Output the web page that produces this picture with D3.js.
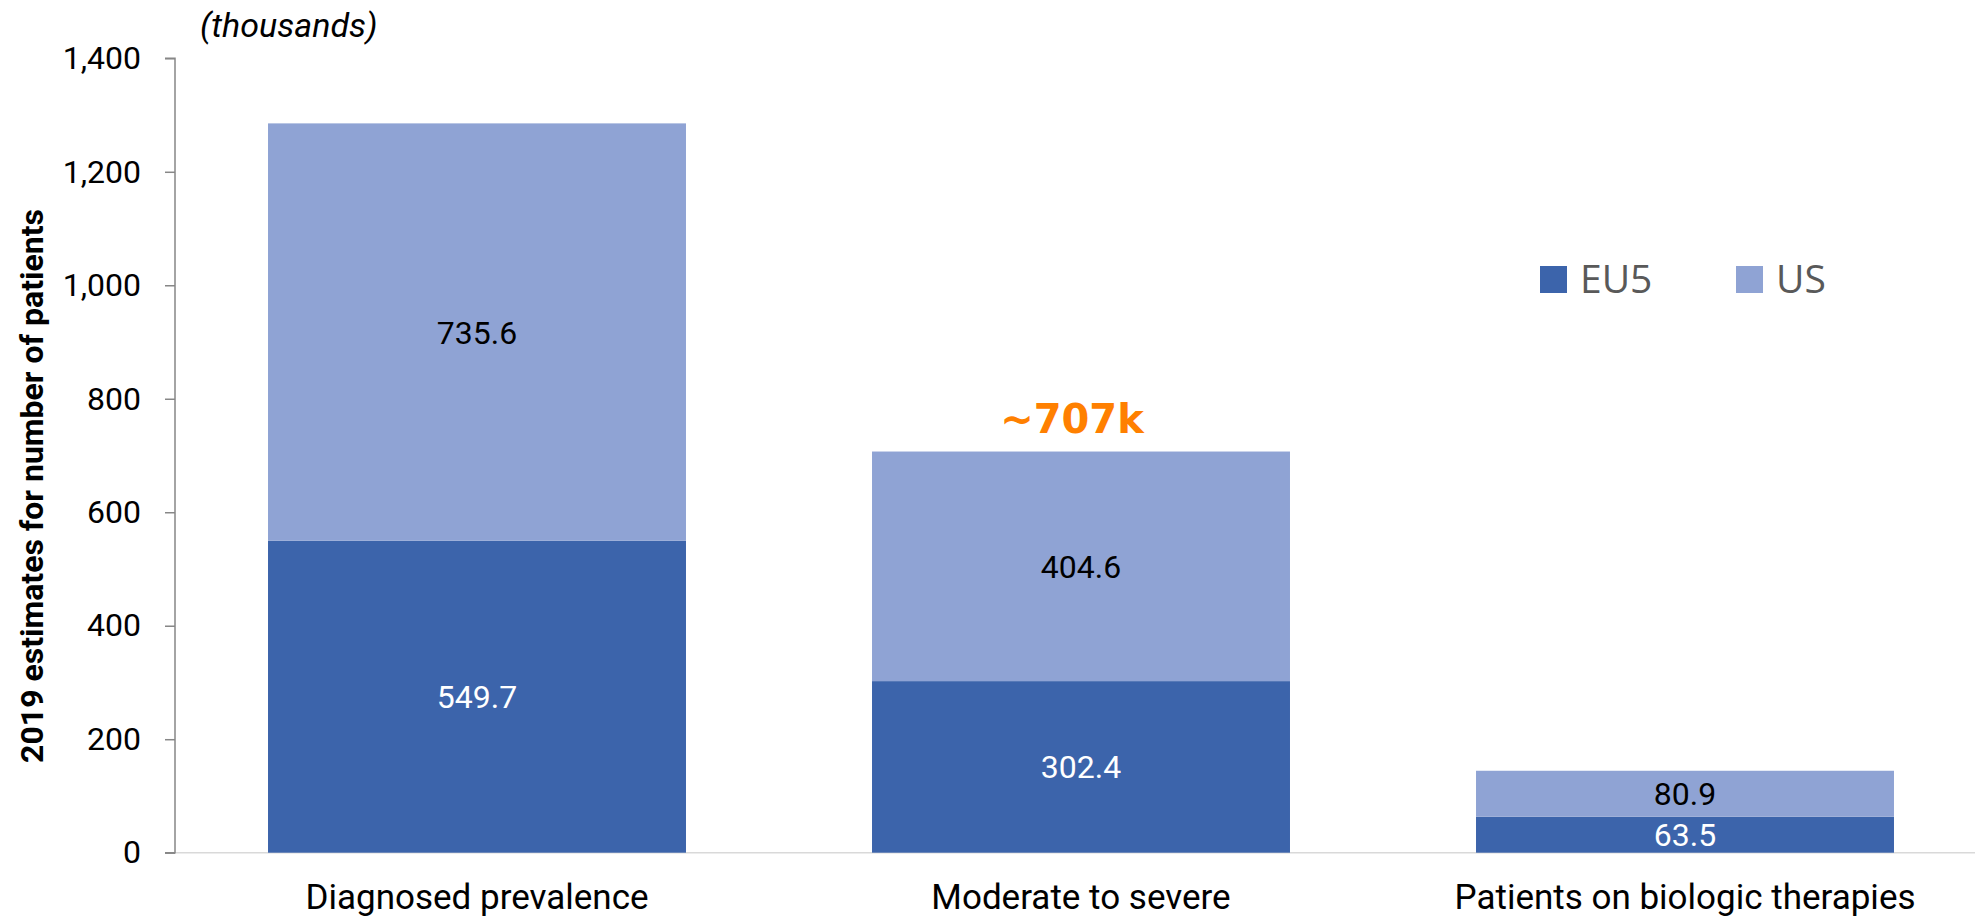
<!DOCTYPE html>
<html>
<head>
<meta charset="utf-8">
<script src="https://cdn.jsdelivr.net/npm/d3@7"></script>
<style>
  html, body { margin: 0; padding: 0; background: #ffffff; }
  svg { display: block; }
</style>
</head>
<body>
<div id="chart"></div>
<script>
// Patient estimates (thousands), 2019
const categories = ["Diagnosed prevalence", "Moderate to severe", "Patients on biologic therapies"];
const seriesNames = ["EU5", "US"];
const eu5Values = [549.7, 302.4, 63.5];
const usValues = [735.6, 404.6, 80.9];
const yTicks = [0, 200, 400, 600, 800, 1000, 1200, 1400];
const calloutText = "~707k";
const calloutIndex = 1;

const W = 1975, H = 921;
const colors = { EU5: "#3C64AB", US: "#8FA3D4" };
const labelColors = { EU5: "#ffffff", US: "#000000" };

const svg = d3.select("#chart").append("svg")
  .attr("width", W).attr("height", H);

const plotLeft = 175, plotRight = 1987;
const x = d3.scaleBand()
  .domain(categories)
  .range([plotLeft, plotRight])
  .paddingInner(0.308)
  .paddingOuter(0.154);

const y = d3.scaleLinear().domain([0, 1400]).range([852.7, 58.3]);

// stacked layout
const rows = categories.map((c, i) => ({ category: c, EU5: eu5Values[i], US: usValues[i] }));
const stack = d3.stack().keys(seriesNames);
const layers = stack(rows);

// baseline
svg.append("line")
  .attr("x1", plotLeft).attr("x2", W)
  .attr("y1", y(0)).attr("y2", y(0))
  .attr("stroke", "#d9d9d9").attr("stroke-width", 1.5);

// bars
const layerG = svg.selectAll("g.layer").data(layers).enter().append("g")
  .attr("class", "layer")
  .attr("fill", d => colors[d.key]);

layerG.selectAll("rect").data(d => d).enter().append("rect")
  .attr("x", d => x(d.data.category))
  .attr("width", x.bandwidth())
  .attr("y", d => y(d[1]))
  .attr("height", d => y(d[0]) - y(d[1]));

// value labels
layers.forEach(layer => {
  svg.append("g").selectAll("text").data(layer).enter().append("text")
    .attr("x", d => x(d.data.category) + x.bandwidth() / 2)
    .attr("y", d => (y(d[0]) + y(d[1])) / 2)
    .attr("dy", "0.36em")
    .attr("text-anchor", "middle")
    .attr("font-family", "Roboto, sans-serif")
    .attr("font-size", 32)
    .attr("fill", labelColors[layer.key])
    .text(d => d.data[layer.key].toFixed(1));
});

// y axis
const yAxis = d3.axisLeft(y)
  .tickValues(yTicks)
  .tickSize(10)
  .tickPadding(24)
  .tickFormat(d3.format(","));
const yg = svg.append("g")
  .attr("transform", `translate(${plotLeft},0)`)
  .call(yAxis);
yg.select(".domain").attr("stroke", "#878787").attr("stroke-width", 1.5)
  .attr("d", `M-10,${y(1400)}H0V${y(0)}H-10`);
yg.selectAll(".tick line").attr("stroke", "#878787").attr("stroke-width", 1.5);
yg.selectAll(".tick text")
  .attr("font-family", "Roboto, sans-serif")
  .attr("font-size", 32)
  .attr("fill", "#000");

// x category labels
svg.append("g").selectAll("text").data(categories).enter().append("text")
  .attr("x", d => x(d) + x.bandwidth() / 2)
  .attr("y", 909)
  .attr("text-anchor", "middle")
  .attr("font-family", "Roboto, sans-serif")
  .attr("font-size", 35)
  .attr("fill", "#000")
  .text(d => d);

// y axis title
svg.append("text")
  .attr("transform", `translate(43,486) rotate(-90)`)
  .attr("text-anchor", "middle")
  .attr("font-family", "Roboto, sans-serif")
  .attr("font-weight", "bold")
  .attr("font-size", 32)
  .attr("fill", "#000")
  .text("2019 estimates for number of patients");

// unit note
svg.append("text")
  .attr("x", 200).attr("y", 37)
  .attr("font-family", "Roboto, sans-serif")
  .attr("font-style", "italic")
  .attr("font-size", 34)
  .attr("fill", "#000")
  .text("(thousands)");

// total callout above the moderate-to-severe bar
const calloutTotal = eu5Values[calloutIndex] + usValues[calloutIndex];
svg.append("text")
  .attr("x", x(categories[calloutIndex]) + x.bandwidth() / 2 - 9)
  .attr("y", y(calloutTotal) - 19)
  .attr("text-anchor", "middle")
  .attr("font-family", "'DejaVu Sans', sans-serif")
  .attr("font-weight", "bold")
  .attr("font-size", 40)
  .attr("fill", "#FF8000")
  .text(calloutText);

// legend
const legend = svg.append("g").attr("transform", "translate(1540,266)");
const legendX = [0, 196];
seriesNames.forEach((s, i) => {
  const g = legend.append("g").attr("transform", `translate(${legendX[i]},0)`);
  g.append("rect").attr("width", 27).attr("height", 27).attr("fill", colors[s]);
  g.append("text")
    .attr("x", 40).attr("y", 27)
    .attr("font-family", "'Open Sans', sans-serif")
    .attr("font-size", 39)
    .attr("fill", "#595959")
    .text(s);
});
</script>
</body>
</html>
